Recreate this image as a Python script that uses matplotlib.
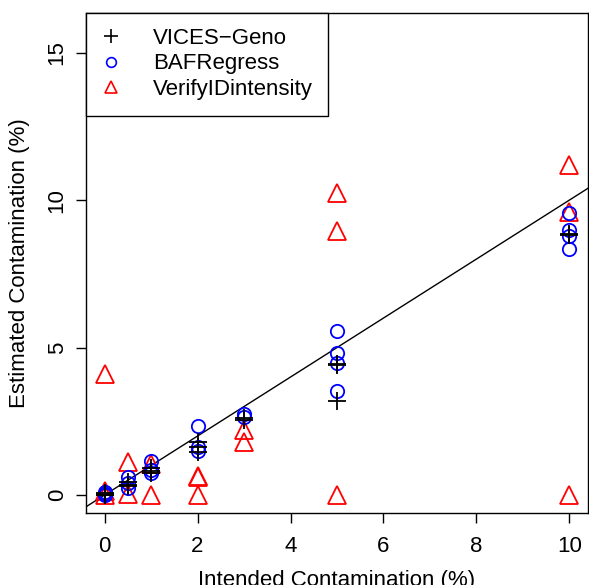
import matplotlib
matplotlib.use("Agg")
import matplotlib.pyplot as plt
from matplotlib.lines import Line2D

plt.rcParams["font.family"] = ["Liberation Sans", "DejaVu Sans"]

# intended vs estimated contamination (%)
vices_x = [0, 0, 0, 0, 0.5, 0.5, 0.5, 1, 1, 1, 2, 2, 2, 3, 3, 5, 5, 5, 10, 10]
vices_y = [0.0, 0.03, 0.08, 0.0, 0.45, 0.35, 0.3, 0.9, 0.8, 0.75, 1.8, 1.64, 1.47,
           2.55, 2.6, 4.45, 4.4, 3.2, 8.85, 8.8]

baf_x = [0, 0, 0, 0, 0.5, 0.5, 0.5, 1, 1, 1, 2, 2, 2, 3, 3, 5, 5, 5, 5, 10, 10, 10, 10]
baf_y = [0.05, 0.1, 0.0, 0.02, 0.6, 0.4, 0.25, 1.17, 0.85, 0.75, 2.34, 1.64, 1.5,
         2.73, 2.65, 5.57, 4.82, 4.46, 3.52, 9.57, 8.98, 8.78, 8.33]

verify_x = [0, 0, 0, 0.5, 0.5, 1, 1, 2, 2, 2, 3, 3, 5, 5, 5, 10, 10, 10]
verify_y = [0.0, 0.15, 4.1, 1.12, 0.02, 1.05, 0.0, 0.6, 0.65, 0.0, 2.2, 1.8,
            10.23, 8.95, 0.0, 11.19, 9.6, 0.0]

labels = ["VICES\u2212Geno", "BAFRegress", "VerifyIDintensity"]

fig = plt.figure(figsize=(5.89, 5.85), dpi=100)
ax = fig.add_axes([86 / 589, 1 - 513 / 585, 502 / 589, 500.5 / 585])

ax.plot([-1, 12], [-1, 12], color="black", lw=1)
ax.plot(verify_x, verify_y, ls="none", marker="^", ms=13, mfc="none", mec="red", mew=1.3)
ax.plot(baf_x, baf_y, ls="none", marker="o", ms=9.6, mfc="none", mec="blue", mew=1.3)
ax.plot(vices_x, vices_y, ls="none", marker="+", ms=13.5, mec="black", mew=1.3)

ax.set_xlim(-0.4, 10.4)
ax.set_ylim(-0.61, 16.36)
ax.set_xticks([0, 2, 4, 6, 8, 10])
ax.set_yticks([0, 5, 10, 15])
ax.tick_params(labelsize=16, length=7.2, width=1, pad=9)
ax.tick_params(axis="y", pad=6)
for t in ax.get_yticklabels():
    t.set_rotation(90)
    t.set_va("center")
for s in ax.spines.values():
    s.set_linewidth(1)

ax.set_xlabel("Intended Contamination (%)", fontsize=16, labelpad=10)
ax.set_ylabel("Estimated Contamination (%)", fontsize=16, labelpad=12)

handles = [
    Line2D([], [], ls="none", marker="+", ms=10, mec="black", mew=1.2),
    Line2D([], [], ls="none", marker="o", ms=7, mfc="none", mec="blue", mew=1.2),
    Line2D([], [], ls="none", marker="^", ms=8.5, mfc="none", mec="red", mew=1.2),
]
leg = ax.legend(handles, labels, loc="upper left", fontsize=16, borderaxespad=0,
                fancybox=False, framealpha=1, edgecolor="black", borderpad=0.7,
                handlelength=0.85, handletextpad=1.45, labelspacing=0.2)
leg.get_frame().set_linewidth(1)

fig.savefig("out.png", dpi=100)
